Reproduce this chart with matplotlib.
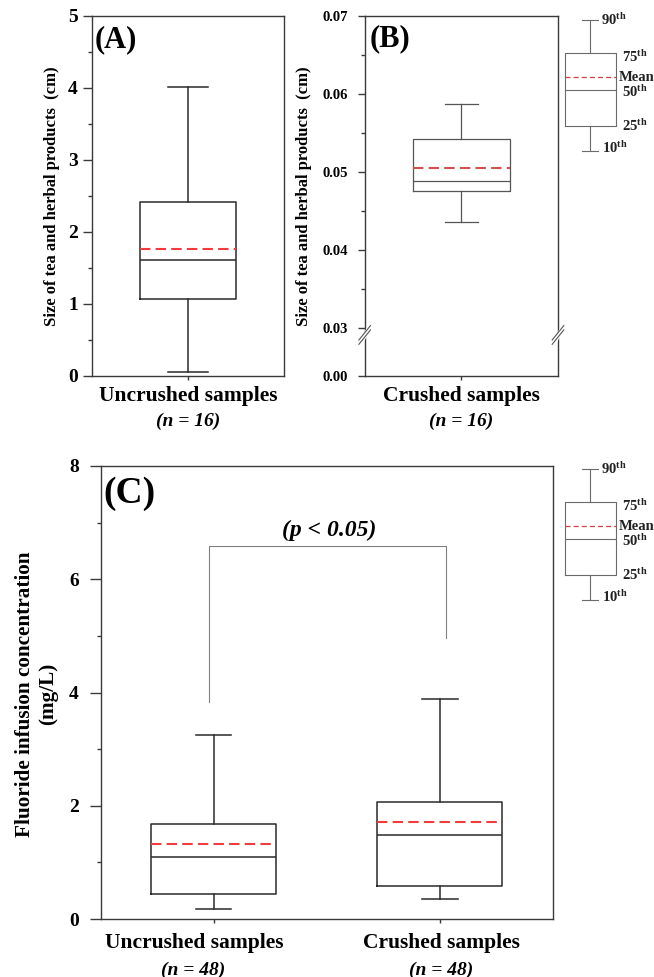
import matplotlib
matplotlib.use('Agg')
import matplotlib.pyplot as plt

plt.rcParams['font.family'] = ['Liberation Serif', 'DejaVu Serif']
plt.rcParams['font.weight'] = 'bold'
plt.rcParams['mathtext.fontset'] = 'custom'
plt.rcParams['mathtext.rm'] = 'Liberation Serif:bold'
plt.rcParams['mathtext.it'] = 'Liberation Serif:bold:italic'
plt.rcParams['mathtext.bf'] = 'Liberation Serif:bold'

# stats: 10th, 25th, 50th, mean, 75th, 90th
a_label = 'Uncrushed samples'
a_n = '(n = 16)'
a_vals = [0.06, 1.07, 1.61, 1.77, 2.42, 4.02]

b_label = 'Crushed samples'
b_n = '(n = 16)'
b_vals = [0.0436, 0.0475, 0.0488, 0.0505, 0.0542, 0.0587]
b_ticks = [0.03, 0.04, 0.05, 0.06, 0.07]
b_zero_pos = 0.0238   # where "0.00" sits below the axis break
b_break = 0.0293

c_labels = ['Uncrushed samples', 'Crushed samples']
c_n = ['(n = 48)', '(n = 48)']
c_vals = [[0.175, 0.447, 1.094, 1.318, 1.675, 3.25],
          [0.357, 0.586, 1.481, 1.711, 2.074, 3.89]]
c_bracket_y = 6.58
c_bracket_legs = [3.83, 4.96]

# legend key (arbitrary units)
key_vals = [0.06, 0.229, 0.469, 0.551, 0.711, 0.931]
key_names = ['10$^{\\rm th}$', '25$^{\\rm th}$', '50$^{\\rm th}$', 'Mean', '75$^{\\rm th}$', '90$^{\\rm th}$']


def stats(v, label=''):
    return dict(whislo=v[0], q1=v[1], med=v[2], mean=v[3], q3=v[4], whishi=v[5], fliers=[], label=label)


W, H = 654, 977
fig = plt.figure(figsize=(W / 100, H / 100), dpi=100)


def px_axes(left, top, right, bottom):
    return fig.add_axes([left / W, 1 - bottom / H, (right - left) / W, (bottom - top) / H])


def style_axes(ax, lw=1.0, col='#3a3a3a'):
    for s in ax.spines.values():
        s.set_linewidth(lw)
        s.set_color(col)


def draw_box(ax, vals, pos, width, capw, col, lw, mcol, mlw, dashes):
    ax.bxp([stats(v) for v in vals], positions=pos, widths=width, capwidths=capw,
           showmeans=True, meanline=True, showfliers=False, manage_ticks=False,
           boxprops=dict(color=col, linewidth=lw),
           whiskerprops=dict(color=col, linewidth=lw),
           capprops=dict(color=col, linewidth=lw),
           medianprops=dict(color=col, linewidth=lw),
           meanprops=dict(color=mcol, linewidth=mlw, linestyle=(0, dashes)))


def draw_key(ax):
    ax.set_xlim(0, 1)
    ax.set_ylim(0, 1)
    ax.axis('off')
    draw_box(ax, [key_vals], [0.354], 0.515, 0.17, '#6a6a6a', 0.8, '#d04040', 0.9, (4, 2.5))
    kx = [0.475, 0.677, 0.677, 0.64, 0.677, 0.465]
    ky = [0.08, 0.227, 0.453, 0.553, 0.687, 0.933]
    for name, x, y in zip(key_names, kx, ky):
        ax.text(x, y, name, fontsize=10.5, ha='left', va='center', color='#222222')


# ---------------- (A)
axA = px_axes(92, 16, 284, 376)
style_axes(axA)
draw_box(axA, [a_vals], [1], 0.5, 0.212, '#2a2a2a', 1.1, '#f03c3c', 1.5, (5, 2.5))
axA.set_xlim(0.5, 1.5)
axA.set_ylim(0, 5)
axA.set_yticks([0, 1, 2, 3, 4, 5])
axA.set_yticks([0.5, 1.5, 2.5, 3.5, 4.5], minor=True)
axA.set_xticks([1])
axA.set_xticklabels([''])
axA.tick_params(axis='y', which='major', length=6.2, width=1, labelsize=14, pad=4, color='#3a3a3a')
axA.tick_params(axis='y', which='minor', length=2.7, width=1, color='#3a3a3a')
axA.tick_params(axis='x', length=3, width=1, color='#3a3a3a')
axA.text(-0.208, 0.5, 'Size of tea and herbal products  (cm)', transform=axA.transAxes,
         rotation=90, ha='center', va='center', fontsize=12)
axA.text(1, -0.056, a_label, transform=axA.get_xaxis_transform(), ha='center', va='center', fontsize=15.5)
axA.text(1, -0.125, a_n, transform=axA.get_xaxis_transform(), ha='center', va='center',
         fontsize=14, style='italic')
axA.text(0.125, 0.935, '(A)', transform=axA.transAxes, ha='center', va='center', fontsize=22)

# ---------------- (B)
axB = px_axes(364.7, 16, 558, 376)
style_axes(axB)
draw_box(axB, [b_vals], [1], 0.5, 0.17, '#555555', 0.9, '#d05050', 1.5, (5, 2.5))
axB.set_xlim(0.5, 1.5)
axB.set_ylim(b_zero_pos, 0.07)
axB.set_yticks([b_zero_pos] + b_ticks)
axB.set_yticklabels(['0.00'] + ['%.2f' % t for t in b_ticks])
axB.set_yticks([0.035, 0.045, 0.055, 0.065], minor=True)
axB.set_xticks([1])
axB.set_xticklabels([''])
axB.tick_params(axis='y', which='major', length=5.3, width=1, labelsize=10.5, pad=7, color='#3a3a3a')
axB.tick_params(axis='y', which='minor', length=2.9, width=1, color='#3a3a3a')
axB.tick_params(axis='x', length=3, width=1, color='#3a3a3a')
# axis break marks
ybr = axB.transLimits.transform((1, b_break))[1]
for xs in (0, 1):
    axB.plot([xs - 0.02, xs + 0.02], [ybr - 0.028, ybr + 0.012], transform=axB.transAxes,
             color='white', linewidth=3, clip_on=False, zorder=5)
    for d in (-0.006, 0.006):
        axB.plot([xs - 0.03, xs + 0.03], [ybr - 0.025 + d, ybr + 0.015 + d], transform=axB.transAxes,
                 color='#555555', linewidth=0.8, clip_on=False, zorder=6)
axB.text(-0.314, 0.5, 'Size of tea and herbal products  (cm)', transform=axB.transAxes,
         rotation=90, ha='center', va='center', fontsize=12)
axB.text(1, -0.056, b_label, transform=axB.get_xaxis_transform(), ha='center', va='center', fontsize=15.5)
axB.text(1, -0.125, b_n, transform=axB.get_xaxis_transform(), ha='center', va='center',
         fontsize=14, style='italic')
axB.text(0.129, 0.936, '(B)', transform=axB.transAxes, ha='center', va='center', fontsize=22)

keyAB = px_axes(555, 10, 654, 160)
draw_key(keyAB)

# ---------------- (C)
axC = px_axes(100.5, 466, 552.7, 919)
style_axes(axC)
draw_box(axC, c_vals, [1, 2], 0.555, 0.158, '#2a2a2a', 1.1, '#f03c3c', 1.5, (5, 2.5))
axC.set_xlim(0.5, 2.5)
axC.set_ylim(0, 8)
axC.set_yticks([0, 2, 4, 6, 8])
axC.set_yticks([1, 3, 5, 7], minor=True)
axC.set_xticks([1, 2])
axC.set_xticklabels(['', ''])
axC.tick_params(axis='y', which='major', length=7.7, width=1, labelsize=14, pad=8, color='#3a3a3a')
axC.tick_params(axis='y', which='minor', length=3, width=1, color='#3a3a3a')
axC.tick_params(axis='x', length=3, width=1, color='#3a3a3a')
# significance bracket
axC.plot([0.981, 0.981, 2.026, 2.026],
         [c_bracket_legs[0], c_bracket_y, c_bracket_y, c_bracket_legs[1]],
         color='#808080', linewidth=0.8)
axC.text(1.513, 6.86, '(p < 0.05)', ha='center', va='center', fontsize=17, style='italic')
axC.text(-0.1415, 0.497, 'Fluoride infusion concentration\n(mg/L)', transform=axC.transAxes,
         rotation=90, ha='center', va='center', fontsize=15.3, linespacing=1.2)
for x, lab in zip([0.913, 2.009], c_labels):
    axC.text(x, -0.053, lab, transform=axC.get_xaxis_transform(), ha='center', va='center', fontsize=15.5)
for x, lab in zip([0.909, 2.007], c_n):
    axC.text(x, -0.1126, lab, transform=axC.get_xaxis_transform(), ha='center', va='center',
             fontsize=14, style='italic')
axC.text(0.065, 0.94, '(C)', transform=axC.transAxes, ha='center', va='center', fontsize=27)

keyC = px_axes(555, 459, 654, 609)
draw_key(keyC)

fig.savefig('out.png', dpi=100)
